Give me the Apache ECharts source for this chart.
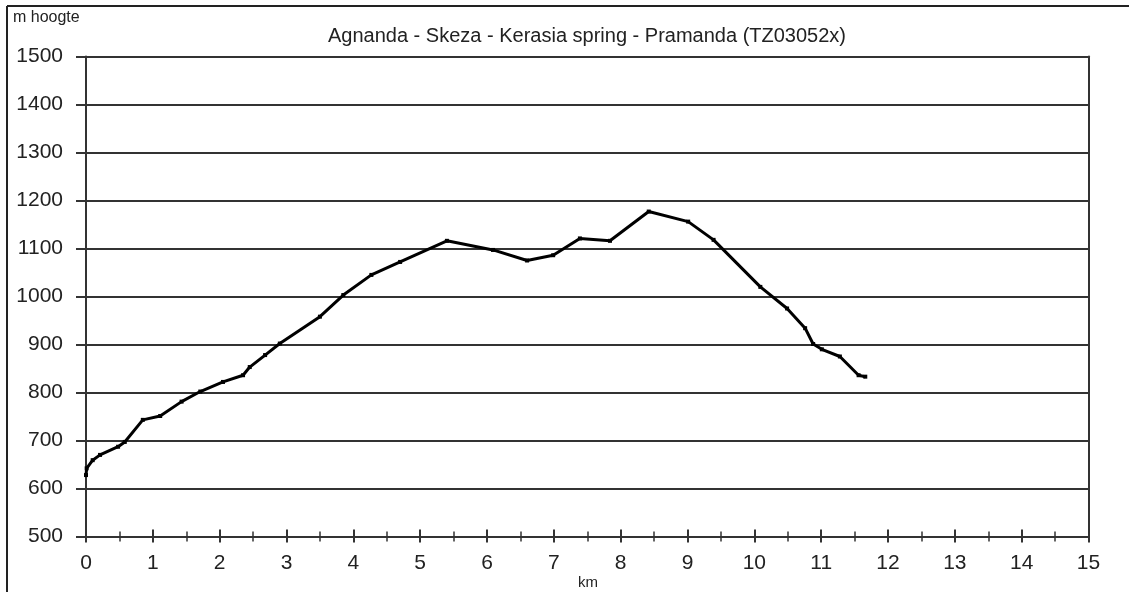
<!DOCTYPE html>
<html>
<head>
<meta charset="utf-8">
<script src="https://cdn.jsdelivr.net/npm/echarts@6/dist/echarts.min.js"></script>
<style>
html,body{margin:0;padding:0;background:#fff;}
#chart{width:1129px;height:592px;}
</style>
</head>
<body>
<div id="chart"></div>
<script>
const titleText = 'Agnanda - Skeza - Kerasia spring - Pramanda (TZ03052x)';
const yAxisLabel = 'm hoogte';
const xAxisLabel = 'km';
const km = [0, 0.01, 0.1, 0.21, 0.48, 0.58, 0.85, 1.11, 1.43, 1.71, 2.05, 2.35, 2.45, 2.68, 2.9, 3.5, 3.85, 4.27, 4.7, 5.4, 6.09, 6.6, 6.99, 7.39, 7.84, 8.42, 9.01, 9.39, 10.09, 10.49, 10.76, 10.88, 11.01, 11.28, 11.56, 11.66];
const elevation = [628, 642, 659, 670, 687, 697, 743, 751, 781, 802, 822, 836, 853, 878, 902, 958, 1003, 1045, 1072, 1116, 1097, 1075, 1086, 1121, 1116, 1177, 1156, 1118, 1020, 975, 934, 901, 890, 875, 836, 833];

const FONT = '"Liberation Sans", Arial, sans-serif';
const chart = echarts.init(document.getElementById('chart'), null, {renderer: 'canvas'});
const pts = km.map((k, i) => [k, elevation[i]]);
const axisCol = '#333';

chart.setOption({
  animation: false,
  backgroundColor: '#fff',
  title: {
    text: titleText, left: 582, top: 21, textAlign: 'center',
    textStyle: {fontFamily: FONT, fontSize: 20, fontWeight: 'normal', color: '#222'}
  },
  graphic: [
    {type: 'line', shape: {x1: 7, y1: 6, x2: 1129, y2: 6}, style: {stroke: '#222', lineWidth: 2}},
    {type: 'line', shape: {x1: 7, y1: 6, x2: 7, y2: 592}, style: {stroke: '#222', lineWidth: 2}},
    {type: 'text', left: 13, top: 10, style: {text: yAxisLabel, font: '16px ' + FONT, fill: '#222'}},
    {type: 'text', left: 578, top: 575, style: {text: xAxisLabel, font: '15px ' + FONT, fill: '#222'}}
  ],
  grid: {left: 86, right: 40.5, top: 56.5, bottom: 55.5, containLabel: false},
  xAxis: [{
    type: 'value', min: 0, max: 15, interval: 1, position: 'bottom',
    axisLine: {show: true, onZero: false, lineStyle: {color: axisCol, width: 2}},
    axisTick: {show: true, inside: true, length: 7, lineStyle: {color: axisCol, width: 2}},
    minorTick: {show: true, splitNumber: 2, length: 5, lineStyle: {color: axisCol, width: 1.5}},
    axisLabel: {show: true, margin: 16, fontFamily: FONT, fontSize: 21, color: '#222'},
    splitLine: {show: false}
  }, {
    type: 'value', min: 0, max: 15, interval: 1, position: 'bottom', offset: 0,
    axisLine: {show: false},
    axisTick: {show: true, inside: false, length: 6, lineStyle: {color: axisCol, width: 2}},
    minorTick: {show: true, splitNumber: 2, length: 5, lineStyle: {color: axisCol, width: 1.5}},
    axisLabel: {show: false},
    splitLine: {show: false}
  }],
  yAxis: [{
    type: 'value', min: 500, max: 1500, interval: 100, position: 'left',
    axisLine: {show: true, onZero: false, lineStyle: {color: axisCol, width: 2}},
    axisTick: {show: true, inside: false, length: 10, lineStyle: {color: axisCol, width: 2}},
    axisLabel: {show: true, margin: 23, fontFamily: FONT, fontSize: 21, color: '#222', formatter: v => String(v)},
    splitLine: {show: true, lineStyle: {color: axisCol, width: 2}}
  }, {
    type: 'value', min: 500, max: 1500, interval: 100, position: 'right',
    axisLine: {show: true, onZero: false, lineStyle: {color: axisCol, width: 2}},
    axisTick: {show: false}, axisLabel: {show: false}, splitLine: {show: false}
  }],
  series: [{
    type: 'line', data: pts, xAxisIndex: 0, yAxisIndex: 0,
    showSymbol: true, symbol: 'rect', symbolSize: 4,
    itemStyle: {color: '#000'},
    lineStyle: {color: '#000', width: 3},
    z: 5
  }]
});
</script>
</body>
</html>
